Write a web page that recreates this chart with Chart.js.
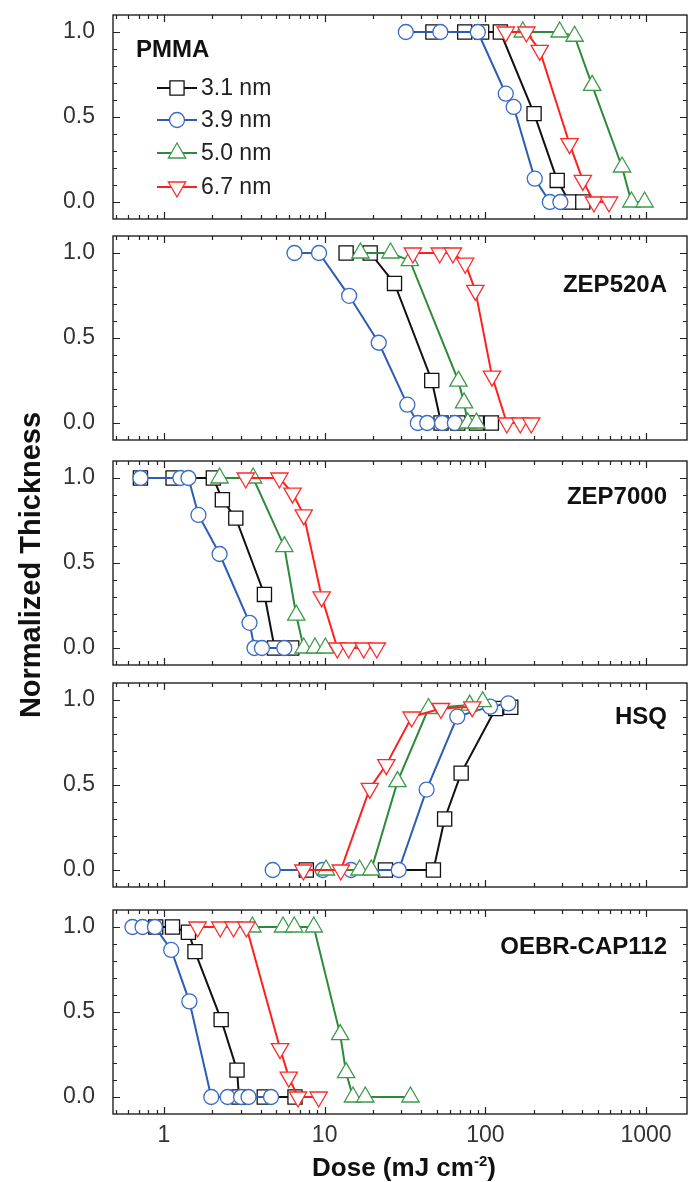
<!DOCTYPE html>
<html>
<head>
<meta charset="utf-8">
<script src="https://cdn.jsdelivr.net/npm/chart.js@4.4.1/dist/chart.umd.min.js"></script>
<style>
html, body { margin: 0; padding: 0; background: #fff; }
#wrap { position: relative; width: 689px; height: 1182px; overflow: hidden; font-family: "Liberation Sans", Arial, sans-serif; color: #111; }
#wrap canvas { position: absolute; left: 0; }
#ytitle { position: absolute; left: -170px; top: 550px; width: 400px; height: 30px; line-height: 30px; text-align: center; font-weight: bold; font-size: 29px; transform: rotate(-90deg); white-space: nowrap; }
#xtitle { position: absolute; left: 404px; top: 1154px; transform: translateX(-50%); font-weight: bold; font-size: 26px; line-height: 26px; white-space: nowrap; }
#xtitle sup { font-size: 15px; line-height: 0; vertical-align: 10px; }
</style>
</head>
<body>
<div id="wrap">
  <canvas id="c0" width="689" height="224"></canvas>
  <canvas id="c1" width="689" height="224"></canvas>
  <canvas id="c2" width="689" height="224"></canvas>
  <canvas id="c3" width="689" height="224"></canvas>
  <canvas id="c4" width="689" height="282"></canvas>
  <div id="ytitle">Normalized Thickness</div>
  <div id="xtitle">Dose (mJ cm<sup>-2</sup>)</div>
</div>
<script>
// film thicknesses (legend)
const seriesLabels = ['3.1 nm', '3.9 nm', '5.0 nm', '6.7 nm'];
const resistNames = ['PMMA', 'ZEP520A', 'ZEP7000', 'HSQ', 'OEBR-CAP112'];
const doseTicks = [1, 10, 100, 1000];
const thickTicks = [0, 0.5, 1.0];

// [dose, normalized thickness]
const pmma31 = [[47.2, 1], [74.4, 1], [94.8, 1], [124, 1], [201, 0.52], [280, 0.127], [334, 0], [404, 0]];
const pmma39 = [[32, 1], [52.5, 1], [89.8, 1], [134, 0.637], [150, 0.559], [203, 0.137], [252, 0], [293, 0]];
const pmma50 = [[171, 1], [290, 1], [359, 0.975], [462, 0.686], [709, 0.206], [811, 0], [979, 0]];
const pmma67 = [[134, 1], [180, 1], [218, 0.892], [334, 0.343], [404, 0.127], [474, 0], [588, 0]];

const zep520_31 = [[13.6, 1], [19.2, 1], [27.2, 0.821], [46.4, 0.25], [53, 0], [67.4, 0], [88, 0], [109, 0]];
const zep520_39 = [[6.49, 1], [9.23, 1], [14.2, 0.748], [21.7, 0.472], [32.7, 0.108], [38, 0], [43.5, 0], [53.8, 0], [64.6, 0]];
const zep520_50 = [[16.7, 1], [25.7, 1], [33.9, 0.955], [68, 0.246], [73.7, 0.118], [77.8, 0], [88, 0]];
const zep520_67 = [[35.4, 1], [52, 1], [62.8, 1], [74.9, 0.94], [86.6, 0.78], [110, 0.276], [136, 0], [165, 0], [193, 0]];

const zep7000_31 = [[0.714, 1], [1.14, 1], [2.03, 1], [2.31, 0.872], [2.8, 0.764], [4.22, 0.315], [4.88, 0], [6.24, 0]];
const zep7000_39 = [[0.714, 1], [1.265, 1], [1.42, 1], [1.64, 0.783], [2.22, 0.553], [3.41, 0.148], [3.66, 0], [4.07, 0], [5.61, 0]];
const zep7000_50 = [[2.22, 1], [3.59, 1], [5.61, 0.596], [6.66, 0.193], [7.41, 0], [8.7, 0], [10.1, 0]];
const zep7000_67 = [[3.23, 1], [5.23, 1], [6.31, 0.911], [7.41, 0.783], [9.58, 0.301], [12.0, 0], [14.1, 0], [17.5, 0], [21.1, 0]];

const hsq31 = [[7.69, 0], [23.9, 0], [47.5, 0], [55.8, 0.3], [70.7, 0.57], [116, 0.95], [144, 0.957]];
const hsq39 = [[4.75, 0], [9.73, 0], [14.6, 0], [28.9, 0], [43.1, 0.473], [66.9, 0.902], [107, 0.961], [139, 0.98]];
const hsq50 = [[10.2, 0], [16.5, 0], [19.5, 0], [28.4, 0.52], [44.3, 0.95], [79.9, 0.97], [96.3, 0.99]];
const hsq67 = [[7.37, 0], [12.6, 0], [19.1, 0.48], [24.2, 0.62], [34.8, 0.9], [52.9, 0.95], [82.9, 0.96]];

const oebr31 = [[0.889, 1], [1.13, 1], [1.42, 0.969], [1.56, 0.855], [2.27, 0.455], [2.85, 0.158], [2.93, 0], [4.21, 0], [6.54, 0]];
const oebr39 = [[0.637, 1], [0.736, 1], [0.879, 1], [1.11, 0.865], [1.44, 0.5625], [1.97, 0], [2.49, 0], [3.02, 0], [3.36, 0], [4.64, 0]];
const oebr50 = [[3.55, 1], [5.51, 1], [6.47, 1], [8.56, 1], [12.5, 0.367], [13.6, 0.143], [15.0, 0], [17.9, 0], [34.2, 0]];
const oebr67 = [[1.62, 1], [2.24, 1], [2.71, 1], [3.26, 1], [5.28, 0.285], [5.98, 0.117], [6.83, 0], [9.18, 0]];

const panelSeries = [
	[pmma31, pmma39, pmma50, pmma67],
	[zep520_31, zep520_39, zep520_50, zep520_67],
	[zep7000_31, zep7000_39, zep7000_50, zep7000_67],
	[hsq31, hsq39, hsq50, hsq67],
	[oebr31, oebr39, oebr50, oebr67]
];

// styling
const FONT = '"Liberation Sans", Arial, sans-serif';
const lineColors = ['#111111', '#2d5db3', '#2e8a3a', '#ff1f1f'];
const markerColors = ['#111111', '#3a6cc6', '#3d9a4a', '#ff2a2a'];
const markerStyles = ['rect', 'circle', 'triangle', 'triangle'];
const markerRotation = [0, 0, 0, 180];
const markerRadius = [10, 7.5, 10, 10];
const areaTops = [15, 236, 461, 683, 910];   // chart area top on the page
const labelOffsets = [35, 49, 36, 34, 37];    // label centre below the chart area top
const doseMin = 0.482, doseMax = 1798;

function drawMarker(ctx, style, x, y, r, rot) {
	ctx.beginPath();
	if (style === 'circle') {
		ctx.arc(x, y, r, 0, Math.PI * 2);
	} else if (style === 'rect') {
		const s = Math.SQRT1_2 * r;
		ctx.rect(x - s, y - s, 2 * s, 2 * s);
	} else {
		let a = rot * Math.PI / 180;
		for (let k = 0; k < 3; k++) {
			const px = x + Math.sin(a) * r, py = y - Math.cos(a) * r;
			k ? ctx.lineTo(px, py) : ctx.moveTo(px, py);
			a += Math.PI * 2 / 3;
		}
		ctx.closePath();
	}
	ctx.fill();
	ctx.stroke();
}

const panelDeco = {
	id: 'panelDeco',
	afterDraw(chart, args, opts) {
		const { ctx, chartArea: a } = chart;
		const x = chart.scales.x, y = chart.scales.y;
		ctx.save();
		ctx.strokeStyle = '#222';
		ctx.lineWidth = 1.4;
		ctx.strokeRect(a.left, a.top, a.right - a.left, a.bottom - a.top);

		// inward ticks, all four sides
		ctx.lineWidth = 1.2;
		ctx.beginPath();
		[0.1, 1, 10, 100, 1000].forEach(dec => {
			for (let m = 1; m <= 9; m++) {
				const v = dec * m;
				if (v < x.min || v > x.max) continue;
				const px = Math.round(x.getPixelForValue(v)) + 0.5;
				const len = m === 1 ? 7 : 4;
				ctx.moveTo(px, a.bottom); ctx.lineTo(px, a.bottom - len);
				ctx.moveTo(px, a.top); ctx.lineTo(px, a.top + len);
			}
		});
		for (let k = 0; k <= 10; k++) {
			const v = k / 10;
			const py = Math.round(y.getPixelForValue(v)) + 0.5;
			const len = k % 5 === 0 ? 7 : 4;
			ctx.moveTo(a.left, py); ctx.lineTo(a.left + len, py);
			ctx.moveTo(a.right, py); ctx.lineTo(a.right - len, py);
		}
		ctx.stroke();

		// resist name
		ctx.fillStyle = '#111';
		ctx.font = 'bold 24px ' + FONT;
		ctx.textBaseline = 'middle';
		if (opts.legend) {
			ctx.textAlign = 'left';
			ctx.fillText(opts.name, a.left + 23, a.top + opts.labelDy);
			ctx.font = '23px ' + FONT;
			const rows = [73, 105, 138, 172];
			chart.data.datasets.forEach((ds, i) => {
				const ly = a.top + rows[i];
				ctx.strokeStyle = ds.borderColor;
				ctx.lineWidth = 2;
				ctx.beginPath();
				ctx.moveTo(a.left + 44, ly); ctx.lineTo(a.left + 84, ly);
				ctx.stroke();
				ctx.fillStyle = '#fff';
				ctx.strokeStyle = ds.pointBorderColor;
				ctx.lineWidth = 1.3;
				drawMarker(ctx, ds.pointStyle, a.left + 64, ly, ds.pointRadius, ds.pointRotation);
				ctx.fillStyle = '#222';
				ctx.fillText(ds.label, a.left + 88, ly + 1);
			});
		} else {
			ctx.textAlign = 'right';
			ctx.fillText(opts.name, a.right - 20, a.top + opts.labelDy);
		}
		ctx.restore();
	}
};

function makePanel(idx) {
	const isBottom = idx === resistNames.length - 1;
	const canvas = document.getElementById('c' + idx);
	canvas.style.top = (areaTops[idx] - 10) + 'px';

	const datasets = panelSeries[idx].map((pts, i) => ({
		label: seriesLabels[i],
		data: pts.map(p => ({ x: p[0], y: p[1] })),
		showLine: true,
		borderColor: lineColors[i],
		borderWidth: 2,
		pointStyle: markerStyles[i],
		pointRotation: markerRotation[i],
		pointRadius: markerRadius[i],
		pointBorderColor: markerColors[i],
		pointBackgroundColor: '#ffffff',
		pointBorderWidth: 1.3,
		order: 4 - i
	}));

	const xScale = {
		type: 'logarithmic',
		min: doseMin,
		max: doseMax,
		display: isBottom,
		grid: { display: false },
		border: { display: false },
		afterBuildTicks: s => { s.ticks = doseTicks.map(v => ({ value: v, major: true })); },
		ticks: {
			autoSkip: false, maxRotation: 0, padding: 0, color: '#333',
			font: { size: 23, family: FONT },
			callback: v => String(v)
		}
	};
	if (isBottom) xScale.afterFit = s => { s.height = 68; s.paddingLeft = 0; s.paddingRight = 0; };

	return new Chart(canvas.getContext('2d'), {
		type: 'scatter',
		data: { datasets },
		options: {
			responsive: false,
			animation: false,
			clip: false,
			layout: { autoPadding: false, padding: { top: 10, bottom: isBottom ? 0 : 10, left: 0, right: 2 } },
			scales: {
				x: xScale,
				y: {
					min: -0.1,
					max: 1.1,
					grid: { display: false },
					border: { display: false },
					afterBuildTicks: s => { s.ticks = thickTicks.map(v => ({ value: v })); },
					afterFit: s => { s.width = 113; s.paddingTop = 0; s.paddingBottom = 0; },
					ticks: {
						padding: 10, color: '#333',
						font: { size: 23, family: FONT },
						callback: v => Number(v).toFixed(1)
					}
				}
			},
			plugins: {
				legend: { display: false },
				tooltip: { enabled: false },
				panelDeco: { name: resistNames[idx], labelDy: labelOffsets[idx], legend: idx === 0 }
			}
		},
		plugins: [panelDeco]
	});
}

resistNames.forEach((n, i) => makePanel(i));
</script>
</body>
</html>
